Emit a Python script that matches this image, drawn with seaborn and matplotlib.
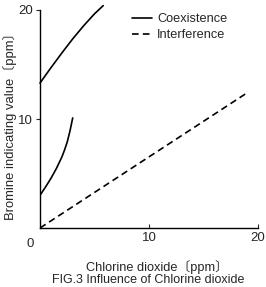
import numpy as np
import pandas as pd
import matplotlib
matplotlib.use('Agg')
import matplotlib.pyplot as plt
import seaborn as sns

# values (ppm)
coex_upper_x = [0, 1, 2, 3, 4, 5, 5.8]
coex_upper_y = [13.3, 14.7, 16.05, 17.35, 18.55, 19.65, 20.4]
coex_lower_x = [0, 0.5, 1.0, 1.5, 2.0, 2.25, 2.5, 2.75, 3.0]
coex_lower_y = [3.0, 3.75, 4.55, 5.45, 6.5, 7.15, 7.9, 8.9, 10.1]
interf_x = [0, 19.0]
interf_y = [0, 12.4]
ticks = [10, 20]

sns.set_style('ticks')
plt.rcParams['font.family'] = ['Liberation Sans', 'Noto Sans CJK JP']

fig = plt.figure(figsize=(2.66, 2.87), dpi=100)
ax = fig.add_axes([40 / 266, 1 - 228 / 287, 218 / 266, 218 / 287])

upper = pd.DataFrame({'x': coex_upper_x, 'y': coex_upper_y})
lower = pd.DataFrame({'x': coex_lower_x, 'y': coex_lower_y})
interf = pd.DataFrame({'x': interf_x, 'y': interf_y})

sns.lineplot(data=upper, x='x', y='y', ax=ax, color='black', lw=1.2,
             label='Coexistence', clip_on=False)
sns.lineplot(data=lower, x='x', y='y', ax=ax, color='black', lw=1.2)
sns.lineplot(data=interf, x='x', y='y', ax=ax, color='black', lw=1.2,
             linestyle=(0, (4, 2.5)), label='Interference')

ax.set_xlim(0, 20)
ax.set_ylim(0, 20)
ax.set_xticks(ticks)
ax.set_yticks(ticks)
ax.tick_params(axis='x', direction='in', length=3, width=0.8, labelsize=9.5, pad=3)
ax.tick_params(axis='y', direction='out', length=3, width=0.8, labelsize=9.5, pad=2)
sns.despine(ax=ax)
for s in ['left', 'bottom']:
    ax.spines[s].set_linewidth(1.0)
    ax.spines[s].set_color('black')

ax.text(-0.6, -0.9, '0', ha='right', va='top', fontsize=9.5)
ax.set_xlabel('Chlorine dioxide〔ppm〕', fontsize=9.2)
ax.xaxis.set_label_coords((157 - 40) / 218, -(267 - 228) / 218)
ax.xaxis.label.set_va('center')
ax.set_ylabel('Bromine indicating value〔ppm〕', fontsize=9.4)
ax.yaxis.set_label_coords(-(40 - 10) / 218, (228 - 123) / 218)
ax.yaxis.label.set_va('center')
fig.text(148 / 266, 1 - 280 / 287, 'FIG.3 Influence of Chlorine dioxide',
         ha='center', va='center', fontsize=9.0)

handles, labels = ax.get_legend_handles_labels()
ax.legend(handles, labels, loc='upper left', bbox_to_anchor=(0.42, 0.985),
          frameon=False, fontsize=9.2, handlelength=1.6, handletextpad=0.4,
          borderpad=0, borderaxespad=0, labelspacing=0.3)

fig.savefig('out.png', dpi=100)
